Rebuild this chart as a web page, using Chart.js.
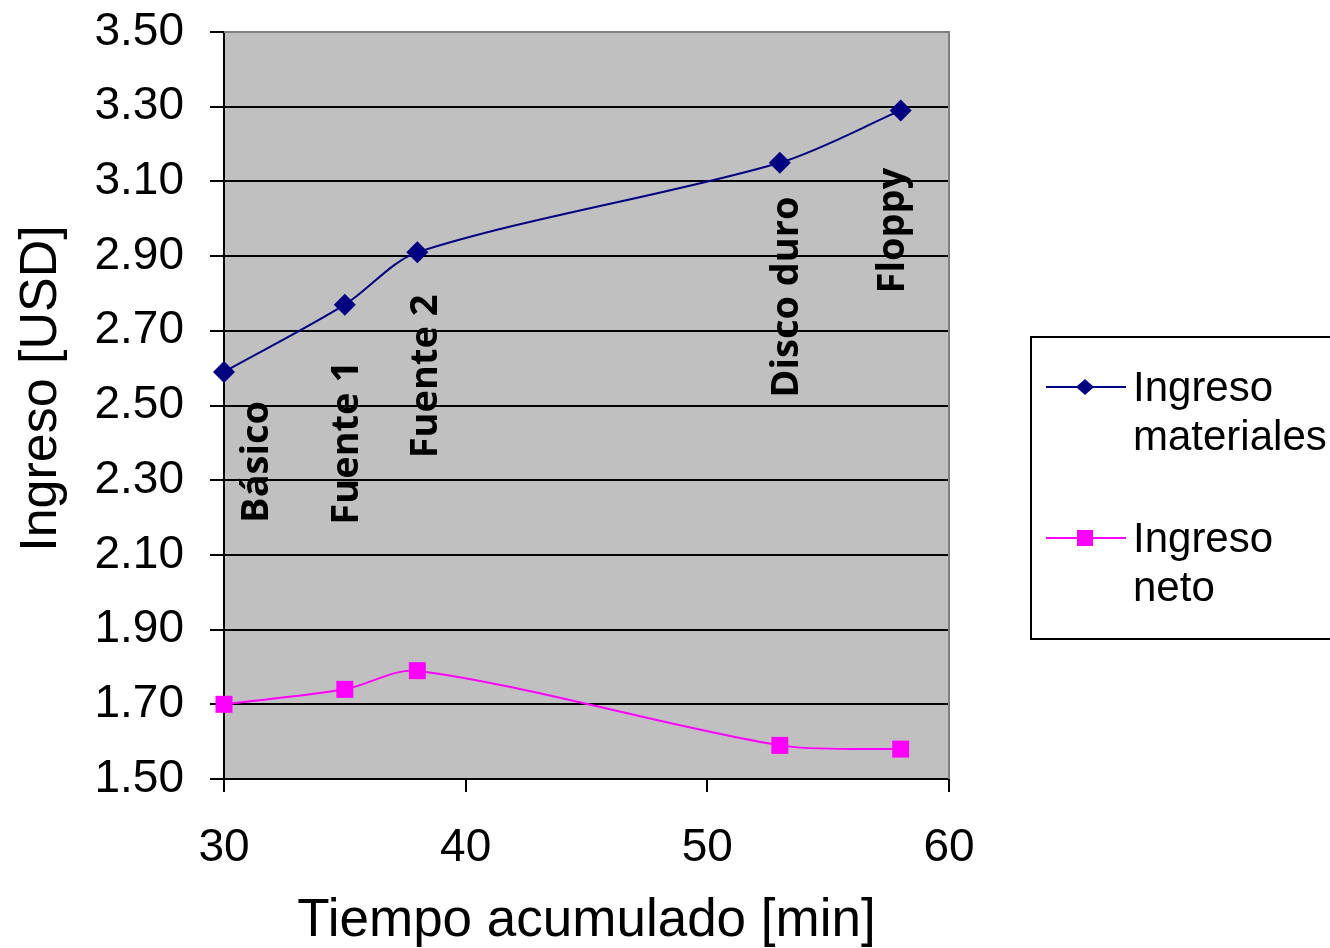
<!DOCTYPE html>
<html>
<head>
<meta charset="utf-8">
<script src="https://cdn.jsdelivr.net/npm/chart.js"></script>
<style>
  html, body { margin: 0; padding: 0; background: #fff; }
  #wrap { width: 1330px; height: 948px; }
</style>
</head>
<body>
<div id="wrap"><canvas id="chart" width="1330" height="948"></canvas></div>
<script>
// ---- data ----
const tiempo = [30, 35, 38, 53, 58];
const ingresoMateriales = [2.59, 2.77, 2.91, 3.15, 3.29];
const ingresoNeto = [1.70, 1.74, 1.79, 1.59, 1.58];
const etapas = ['Básico', 'Fuente 1', 'Fuente 2', 'Disco duro', 'Floppy'];
const seriesNames = [['Ingreso', 'materiales'], ['Ingreso', 'neto']];
const yRange = [1.5, 3.5, 0.2];
const xRange = [30, 60, 10];

// stage label placement: px from its point (dx to baseline, dy to start of text)
const labelOffsets = [[44, 151], [13, 220], [20, 206], [18, 235], [3, 183]];

const AXIS_FONT = 'Liberation Sans, Arial, sans-serif';
const LABEL_FONT = '"Open Sans", "DejaVu Sans", sans-serif';

// gray plot area
const plotBackground = {
    id: 'plotBackground',
    beforeDraw(chart) {
        const { ctx, chartArea: a } = chart;
        ctx.save();
        ctx.fillStyle = '#c0c0c0';
        ctx.fillRect(a.left, a.top, a.right - a.left, a.bottom - a.top);
        ctx.restore();
    },
    beforeDatasetsDraw(chart) {
        const { ctx, chartArea: a } = chart;
        ctx.save();
        ctx.strokeStyle = '#808080';
        ctx.lineWidth = 2;
        ctx.beginPath();
        ctx.moveTo(a.left, a.top);
        ctx.lineTo(a.right, a.top);
        ctx.lineTo(a.right, a.bottom);
        ctx.stroke();
        ctx.restore();
    }
};

// y-axis title, sitting a little above the axis middle
const yTitle = {
    id: 'yTitle',
    afterDraw(chart) {
        const { ctx, chartArea: a } = chart;
        ctx.save();
        ctx.fillStyle = '#000';
        ctx.font = '52px ' + AXIS_FONT;
        ctx.textAlign = 'center';
        ctx.textBaseline = 'alphabetic';
        ctx.translate(56, (a.top + a.bottom) / 2 - 17);
        ctx.rotate(-Math.PI / 2);
        ctx.fillText('Ingreso [USD]', 0, 0);
        ctx.restore();
    }
};

// vertical stage names next to each point of the first series
const stageLabels = {
    id: 'stageLabels',
    afterDatasetsDraw(chart) {
        const { ctx, scales } = chart;
        ctx.save();
        ctx.fillStyle = '#000';
        ctx.font = 'bold 38px ' + LABEL_FONT;
        ctx.textAlign = 'left';
        ctx.textBaseline = 'alphabetic';
        etapas.forEach((name, i) => {
            const x = scales.x.getPixelForValue(tiempo[i]) + labelOffsets[i][0];
            const y = scales.y.getPixelForValue(ingresoMateriales[i]) + labelOffsets[i][1];
            ctx.save();
            ctx.translate(x, y);
            ctx.rotate(-Math.PI / 2);
            ctx.fillText(name, 0, 0);
            ctx.restore();
        });
        ctx.restore();
    }
};

// boxed legend on the right, two-line names
const sideLegend = {
    id: 'sideLegend',
    afterDraw(chart) {
        const { ctx } = chart;
        const box = { x: 1031, y: 337, w: 320, h: 302 };
        ctx.save();
        ctx.fillStyle = '#fff';
        ctx.fillRect(box.x, box.y, box.w, box.h);
        ctx.strokeStyle = '#000';
        ctx.lineWidth = 2;
        ctx.strokeRect(box.x, box.y, box.w, box.h);

        const rows = [387, 538];
        chart.data.datasets.forEach((ds, i) => {
            const y = rows[i];
            ctx.strokeStyle = ds.borderColor;
            ctx.lineWidth = 2;
            ctx.beginPath();
            ctx.moveTo(1046, y);
            ctx.lineTo(1126, y);
            ctx.stroke();
            ctx.fillStyle = ds.borderColor;
            const cx = 1085;
            if (ds.pointStyle === 'rectRot') {
                ctx.beginPath();
                ctx.moveTo(cx - 9, y);
                ctx.lineTo(cx, y - 8);
                ctx.lineTo(cx + 9, y);
                ctx.lineTo(cx, y + 8);
                ctx.closePath();
                ctx.fill();
            } else {
                ctx.fillRect(cx - 8, y - 8, 16, 16);
            }
            ctx.fillStyle = '#000';
            ctx.font = '42px ' + AXIS_FONT;
            ctx.textAlign = 'left';
            ctx.textBaseline = 'alphabetic';
            seriesNames[i].forEach((line, k) => {
                ctx.fillText(line, 1133, y + 14 + k * 49);
            });
        });
        ctx.restore();
    }
};

const ctx = document.getElementById('chart').getContext('2d');
new Chart(ctx, {
    type: 'line',
    data: {
        datasets: [
            {
                label: seriesNames[0].join(' '),
                data: tiempo.map((t, i) => ({ x: t, y: ingresoMateriales[i] })),
                borderColor: '#000080',
                backgroundColor: '#000080',
                borderWidth: 2,
                pointStyle: 'rectRot',
                pointRadius: 11,
                pointBorderWidth: 0,
                tension: 0.3,
                clip: false
            },
            {
                label: seriesNames[1].join(' '),
                data: tiempo.map((t, i) => ({ x: t, y: ingresoNeto[i] })),
                borderColor: '#ff00ff',
                backgroundColor: '#ff00ff',
                borderWidth: 2,
                pointStyle: 'rect',
                pointRadius: 12,
                pointBorderWidth: 0,
                tension: 0.3,
                clip: false
            }
        ]
    },
    options: {
        responsive: false,
        animation: false,
        layout: { padding: { top: 32, right: 381, left: 0, bottom: 0 } },
        plugins: {
            legend: { display: false },
            tooltip: { enabled: false }
        },
        scales: {
            x: {
                type: 'linear',
                min: xRange[0],
                max: xRange[1],
                ticks: {
                    stepSize: xRange[2],
                    color: '#000',
                    padding: 29,
                    font: { family: AXIS_FONT, size: 46 }
                },
                grid: {
                    drawOnChartArea: false,
                    tickLength: 13,
                    tickColor: '#000',
                    lineWidth: 2
                },
                border: { color: '#000', width: 2 },
                title: {
                    display: true,
                    text: 'Tiempo acumulado [min]',
                    color: '#000',
                    padding: { top: 0, bottom: -5 },
                    font: { family: AXIS_FONT, size: 53 }
                },
                afterFit(scale) {
                    scale.height = 169;
                    scale.paddingLeft = 0;
                    scale.paddingRight = 0;
                }
            },
            y: {
                type: 'linear',
                min: yRange[0],
                max: yRange[1],
                ticks: {
                    stepSize: yRange[2],
                    color: '#000',
                    padding: 26,
                    font: { family: AXIS_FONT, size: 46 },
                    callback: v => v.toFixed(2)
                },
                grid: {
                    color: c => (c.tick && Math.abs(c.tick.value - yRange[1]) < 1e-6) ? 'rgba(0,0,0,0)' : '#000',
                    tickColor: '#000',
                    tickLength: 14,
                    lineWidth: 2
                },
                border: { color: '#000', width: 2 },
                afterFit(scale) {
                    scale.width = 224;
                    scale.paddingTop = 0;
                    scale.paddingBottom = 0;
                }
            }
        }
    },
    plugins: [plotBackground, yTitle, stageLabels, sideLegend]
});
</script>
</body>
</html>
